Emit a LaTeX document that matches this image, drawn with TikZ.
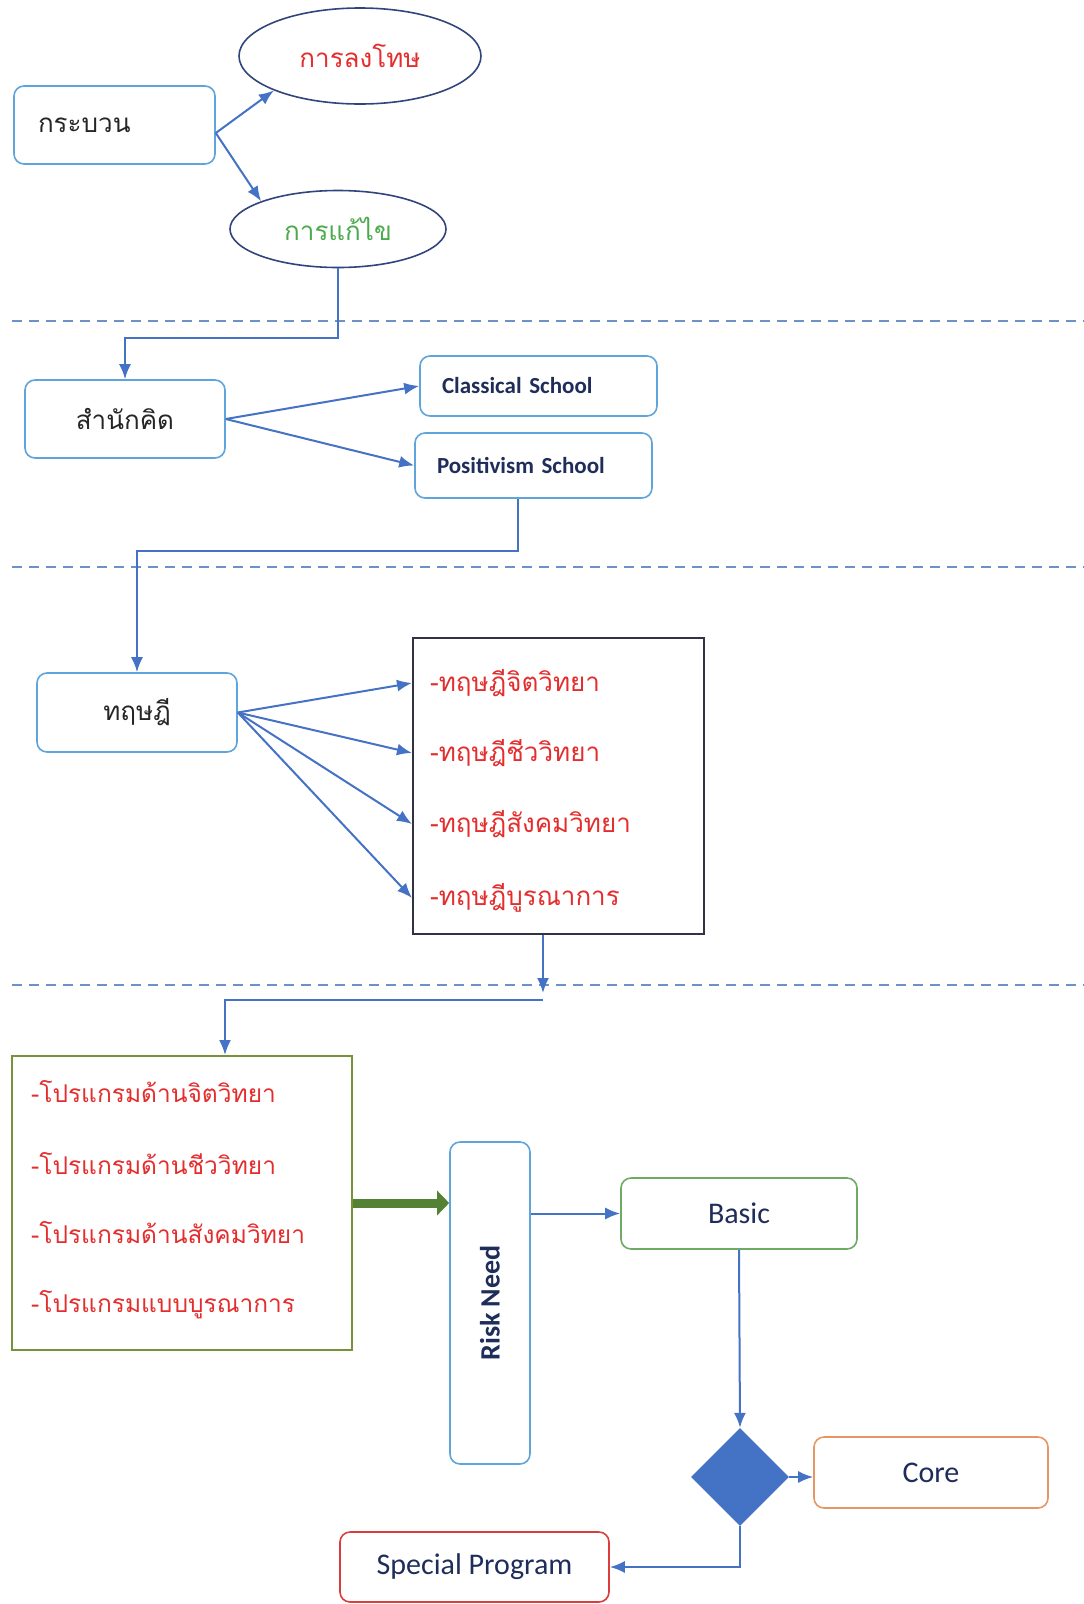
\documentclass[tikz,border=0pt]{standalone}
\usepackage{graphicx}
\usepackage{fontspec}
\setmainfont{Carlito}
\newfontfamily\thaifont[Script=Thai]{Loma}
\usepackage{tikz}
\usetikzlibrary{arrows.meta,shapes.geometric}
\definecolor{linkblue}{RGB}{68,114,196}
\definecolor{boxblue}{RGB}{95,165,220}
\definecolor{ovalnavy}{RGB}{50,68,125}
\definecolor{sepblue}{RGB}{110,145,200}
\definecolor{textnavy}{RGB}{30,45,90}
\definecolor{thaired}{RGB}{228,45,45}
\definecolor{thaigreen}{RGB}{75,170,75}
\definecolor{listgray}{RGB}{50,50,70}
\definecolor{olive}{RGB}{120,146,60}
\definecolor{arrowgreen}{RGB}{84,130,53}
\definecolor{basicgreen}{RGB}{110,170,100}
\definecolor{coreorange}{RGB}{230,150,100}
\definecolor{specialred}{RGB}{220,60,60}

\begin{document}
\begin{tikzpicture}[x=1pt,y=-1pt,
  link/.style={draw=linkblue,line width=2pt,-{Latex[length=15pt,width=12pt]}},
  bigarrow/.style={draw=arrowgreen,line width=9pt,-{Triangle[length=12pt,width=24pt]}},
  sepline/.style={draw=sepblue,line width=1.6pt,dash pattern=on 10pt off 7pt},
  roundbox/.style={draw=boxblue,line width=1.6pt,rounded corners=10pt,fill=white,
    minimum width=200,minimum height=78,inner sep=0pt,text=black!85,
    font=\thaifont\fontsize{26}{30}\selectfont},
  schoolbox/.style={roundbox,minimum height=60,inner xsep=22pt,text width=193,align=left,
    text=textnavy,font=\bfseries\fontsize{23}{28}\selectfont},
  oval/.style={ellipse,draw=ovalnavy,line width=1.6pt,inner sep=0pt,
    font=\thaifont\fontsize{26}{30}\selectfont},
  listbox/.style={draw,line width=2pt,inner sep=0pt},
  item/.style={anchor=west,inner sep=0pt,text=thaired,
    font=\thaifont\fontsize{26}{30}\selectfont},
  endbox/.style={draw,line width=1.6pt,rounded corners=10pt,inner sep=0pt,
    minimum height=71,text=textnavy,font=\fontsize{30}{36}\selectfont}]
  \useasboundingbox (0,0) rectangle (1084,1604);

  \node[roundbox,text width=153,inner xsep=24pt,align=left] (proc) at (114.5,125) {กระบวน};
  \node[oval,minimum width=242,minimum height=96,text=thaired] (punish) at (360,56) {การลงโทษ};
  \node[oval,minimum width=216,minimum height=77,text=thaigreen] (correct) at (338,229) {การแก้ไข};
  \draw[link] ([yshift=-8]proc.east) -- (punish.south west);
  \draw[link] ([yshift=-8]proc.east) -- (correct.north west);

  \draw[sepline] (12,321) -- (1084,321);

  \node[roundbox] (school) at (125,419) {สำนักคิด};
  \node[schoolbox,minimum height=60] (classical) at (538.5,386) {Classical School};
  \node[schoolbox,minimum height=65] (positivism) at (533.5,465.5) {Positivism School};
  \draw[link] (correct.south) -- ++(0,70) -| (school.north);
  \draw[link] (school.east) -- (classical.west);
  \draw[link] (school.east) -- (positivism.west);

  \draw[sepline] (12,567) -- (1084,567);

  \node[roundbox,minimum height=79] (theory) at (137,712.5) {ทฤษฎี};
  \node[listbox,draw=listgray,minimum width=291,minimum height=296] (thlist) at (558.5,786) {};
  \node[item] (th1) at (430,683) {-ทฤษฎีจิตวิทยา};
  \node[item] (th2) at (430,753) {-ทฤษฎีชีววิทยา};
  \node[item] (th3) at (430,824) {-ทฤษฎีสังคมวิทยา};
  \node[item] (th4) at (430,898) {-ทฤษฎีบูรณาการ};
  \draw[link] ([xshift=-16]positivism.south) -- ++(0,52) -| (theory.north);
  \foreach \i in {1,...,4}
    \draw[link] (theory.east) -- (thlist.west |- th\i.west);

  \draw[sepline] (12,985) -- (1084,985);

  \coordinate (drop) at (543,993);
  \coordinate (turn) at (543,1000);
  \node[listbox,draw=olive,minimum width=340,minimum height=294] (programs) at (182,1203) {};
  \node[item,font=\thaifont\fontsize{24.5}{29}\selectfont] (pg1) at (31,1092) {-โปรแกรมด้านจิตวิทยา};
  \node[item,font=\thaifont\fontsize{24.5}{29}\selectfont] (pg2) at (31,1164) {-โปรแกรมด้านชีววิทยา};
  \node[item,font=\thaifont\fontsize{24.5}{29}\selectfont] (pg3) at (31,1233) {-โปรแกรมด้านสังคมวิทยา};
  \node[item,font=\thaifont\fontsize{24.5}{29}\selectfont] (pg4) at (31,1305) {-โปรแกรมแบบบูรณาการ};
  \draw[link] ([xshift=-15.5]thlist.south) -- (drop);
  \draw[link] (turn) -| ([xshift=43]programs.north);

  \node[roundbox,minimum width=80,minimum height=322,text=textnavy,
    font=\bfseries\fontsize{28}{34}\selectfont] (riskneed) at (490,1303) {\rotatebox{90}{Risk Need}};
  \node[endbox,draw=basicgreen,minimum width=236] (basic) at (739,1213.5) {Basic};
  \node[diamond,fill=linkblue,minimum width=98,minimum height=98,inner sep=0pt] (decision) at (740,1477) {};
  \node[endbox,draw=coreorange,minimum width=234] (core) at (931,1472.5) {Core};
  \node[endbox,draw=specialred,minimum width=269,minimum height=70] (special) at (474.5,1567) {Special Program};

  \draw[bigarrow] (programs.east) -- (programs.east -| riskneed.west);
  \draw[link] (basic.west -| riskneed.east) -- (basic.west);
  \draw[link] (basic.south) -- (decision.north);
  \draw[link] (decision.east) -- (decision.east -| core.west);
  \draw[link] (decision.south) |- (special.east);
\end{tikzpicture}
\end{document}
